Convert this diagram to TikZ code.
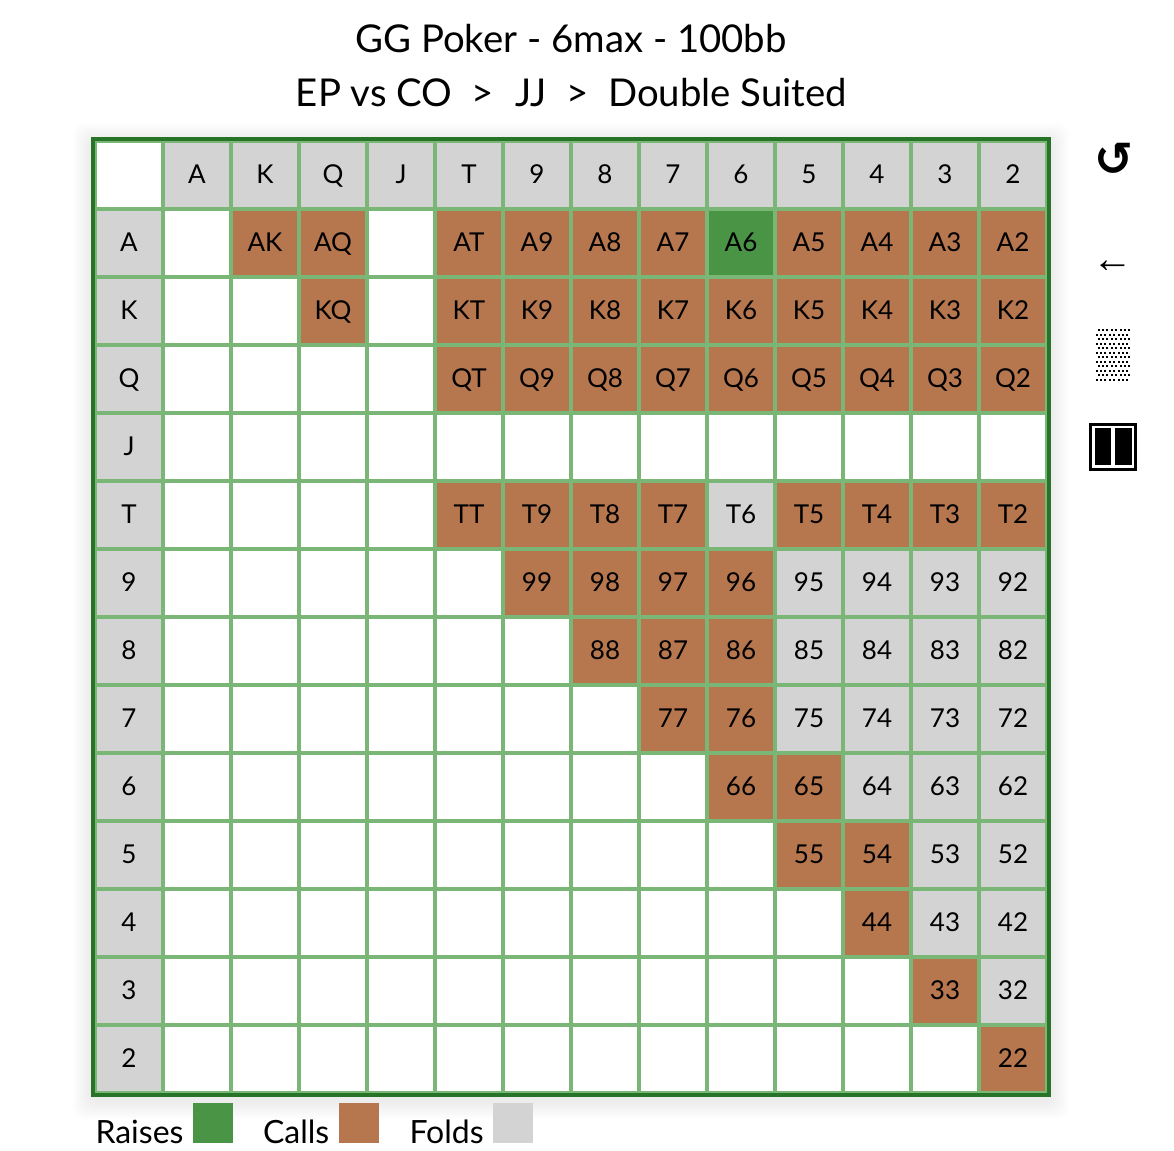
\documentclass[tikz,border=0pt]{standalone}
\usepackage{fontspec}
\setmainfont{Lato}
\newfontfamily\symfont{DejaVu Sans}
\newfontfamily\arrowfont{Liberation Sans}
\definecolor{raisec}{HTML}{4A9446}
\definecolor{callc}{HTML}{B6764E}
\definecolor{foldc}{HTML}{D3D3D3}
\definecolor{gridc}{HTML}{7AB675}
\definecolor{framec}{HTML}{277327}
\tikzset{
  x=0.75pt,y=-0.75pt,
  cellbox/.style={minimum width=48pt,minimum height=48pt,inner sep=0pt,outer sep=0pt,font=\fontsize{19.5pt}{20pt}\selectfont,text height=12.5pt,text depth=0pt,align=center},
  blank/.style={cellbox,fill=white},
  raise/.style={cellbox,fill=raisec},
  call/.style={cellbox,fill=callc},
  fold/.style={cellbox,fill=foldc},
  swatch/.style={minimum width=30pt,minimum height=30pt,inner sep=0pt,outer sep=0pt,anchor=north west},
  legendtext/.style={inner sep=0pt,outer sep=0pt,anchor=base west,font=\fontsize{24pt}{26pt}\selectfont},
  titletext/.style={inner sep=0pt,outer sep=0pt,anchor=base,font=\fontsize{28.75pt}{30pt}\selectfont},
}
\begin{document}
\begin{tikzpicture}
\useasboundingbox (0,0) rectangle (1174,1150);
\fill[white] (0,0) rectangle (1174,1150);
% soft shadow
\foreach \e in {2,4,...,18}{
  \fill[black,opacity=0.008,rounded corners=8pt] (91-\e,137-\e+4) rectangle (1051+\e,1097+\e+4);
}
% frame and grid
\fill[framec] (91,137) rectangle (1051,1097);
\fill[gridc] (95,141) rectangle (1047,1093);
% white cells
\foreach \r in {0,...,13}{\foreach \c in {0,...,13}{
  \node[blank] (b\r-\c) at (129+68*\c,175+68*\r) {};
}}
% header cells
\foreach \t [count=\i from 1] in {A,K,Q,J,T,9,8,7,6,5,4,3,2}{
  \node[fold] (top\t) at (129+68*\i,175) {\t};
  \node[fold] (left\t) at (129,175+68*\i) {\t};
}
% hands: row / column / label / style
\foreach \r/\c/\t/\s in {
 1/2/AK/call,1/3/AQ/call,1/5/AT/call,1/6/A9/call,1/7/A8/call,1/8/A7/call,1/9/A6/raise,1/10/A5/call,1/11/A4/call,1/12/A3/call,1/13/A2/call,
 2/3/KQ/call,2/5/KT/call,2/6/K9/call,2/7/K8/call,2/8/K7/call,2/9/K6/call,2/10/K5/call,2/11/K4/call,2/12/K3/call,2/13/K2/call,
 3/5/QT/call,3/6/Q9/call,3/7/Q8/call,3/8/Q7/call,3/9/Q6/call,3/10/Q5/call,3/11/Q4/call,3/12/Q3/call,3/13/Q2/call,
 5/5/TT/call,5/6/T9/call,5/7/T8/call,5/8/T7/call,5/9/T6/fold,5/10/T5/call,5/11/T4/call,5/12/T3/call,5/13/T2/call,
 6/6/99/call,6/7/98/call,6/8/97/call,6/9/96/call,6/10/95/fold,6/11/94/fold,6/12/93/fold,6/13/92/fold,
 7/7/88/call,7/8/87/call,7/9/86/call,7/10/85/fold,7/11/84/fold,7/12/83/fold,7/13/82/fold,
 8/8/77/call,8/9/76/call,8/10/75/fold,8/11/74/fold,8/12/73/fold,8/13/72/fold,
 9/9/66/call,9/10/65/call,9/11/64/fold,9/12/63/fold,9/13/62/fold,
 10/10/55/call,10/11/54/call,10/12/53/fold,10/13/52/fold,
 11/11/44/call,11/12/43/fold,11/13/42/fold,
 12/12/33/call,12/13/32/fold,
 13/13/22/call}{
  \node[\s] (h\t) at (129+68*\c,175+68*\r) {\t};
}
% titles
\node[titletext] (title1) at (571,52) {GG Poker - 6max - 100bb};
\node[titletext] (title2) at (571.5,106) {EP vs CO\hspace{0.5em}>\hspace{0.555em}JJ\hspace{0.5em}>\hspace{0.52em}Double Suited};
% legend
\node[legendtext] (lraises) at (95.5,1143) {Raises};
\node[swatch,fill=raisec] (sraises) at (193,1103) {};
\node[legendtext] (lcalls) at (263,1143) {Calls};
\node[swatch,fill=callc] (scalls) at (339,1103) {};
\node[legendtext] (lfolds) at (409.5,1143) {Folds};
\node[swatch,fill=foldc] (sfolds) at (493,1103) {};
% side icons
\node[inner sep=0pt,font=\symfont\bfseries\fontsize{35pt}{36pt}\selectfont] (reload) at (1114,159) {↺};
\node[inner sep=0pt,font=\arrowfont\fontsize{30.5pt}{32pt}\selectfont] (back) at (1113,267) {←};
\foreach \r in {0,...,11}{
  \pgfmathsetmacro{\off}{mod(\r,2)==0 ? 1098.5 : 1096.5}
  \foreach \c in {0,...,7}{
    \fill[black] (\off+4.42*\c-1,330+4.5*\r-1) rectangle (\off+4.42*\c+1,330+4.5*\r+1);
  }
}
\fill[black] (1089,423) rectangle (1137,471);
\fill[white] (1092,426) rectangle (1134,468);
\fill[black] (1095,428) rectangle (1111,465);
\fill[black] (1115,428) rectangle (1132,465);
\end{tikzpicture}
\end{document}
